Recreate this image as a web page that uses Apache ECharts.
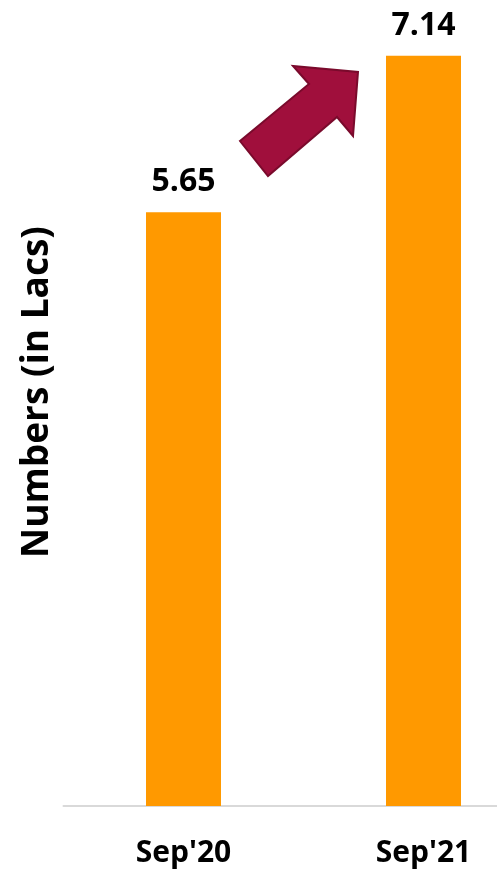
<!DOCTYPE html>
<html>
<head>
<meta charset="utf-8">
<script src="https://cdn.jsdelivr.net/npm/echarts@6/dist/echarts.min.js"></script>
<style>
html,body{margin:0;padding:0;background:#fff;}
#chart{width:497px;height:874px;}
</style>
</head>
<body>
<div id="chart"></div>
<script>
const categories = ["Sep'20", "Sep'21"];
const values = [5.65, 7.14];
const yAxisTitle = 'Numbers (in Lacs)';

const chart = echarts.init(document.getElementById('chart'), null, {renderer: 'canvas'});
const font = '"Open Sans", sans-serif';
chart.setOption({
  animation: false,
  backgroundColor: '#ffffff',
  grid: {left: 63.5, width: 480, bottom: 68, height: 828, containLabel: false, outerBoundsMode: 'none'},
  xAxis: {
    type: 'category',
    data: categories,
    axisLine: {show: true, lineStyle: {color: '#d9d9d9', width: 2}},
    axisTick: {show: false},
    axisLabel: {color: '#000', fontFamily: font, fontWeight: 'bold', fontSize: 30, margin: 32}
  },
  yAxis: {
    type: 'value',
    min: 0,
    max: 7.88,
    axisLine: {show: false},
    axisTick: {show: false},
    axisLabel: {show: false},
    splitLine: {show: false},
    name: yAxisTitle,
    nameLocation: 'middle',
    nameRotate: 90,
    nameGap: 8,
    nameTextStyle: {color: '#000', fontFamily: font, fontWeight: 'bold', fontSize: 37}
  },
  series: [{
    type: 'bar',
    data: values,
    barWidth: 75,
    itemStyle: {color: '#ff9900'},
    label: {
      show: true,
      position: 'top',
      distance: 14,
      color: '#000',
      fontFamily: font,
      fontWeight: 'bold',
      fontSize: 32,
      formatter: p => p.value.toFixed(2)
    }
  }],
  graphic: [{
    type: 'polygon',
    shape: {points: [[240,141],[309,84],[293,66],[358,72],[353,136],[337,117],[268,176]]},
    style: {fill: '#a00f3c', stroke: '#7a0a2c', lineWidth: 2}
  }]
});
</script>
</body>
</html>
